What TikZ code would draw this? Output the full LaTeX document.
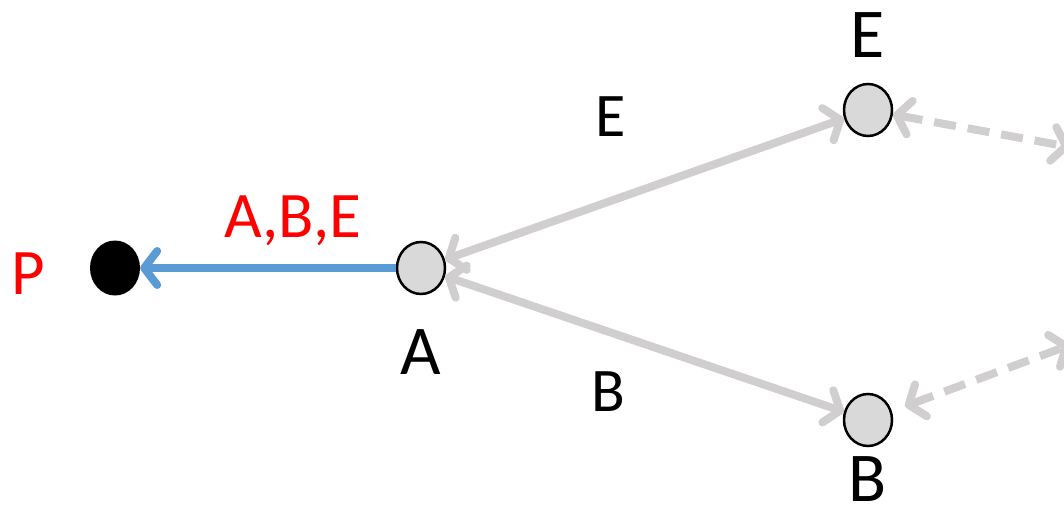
\documentclass[tikz,border=0pt]{standalone}
\usepackage{fontspec}
\setmainfont{Carlito}
\usetikzlibrary{arrows.meta,shapes.geometric}
\definecolor{lgray}{HTML}{D0CECE}
\definecolor{nodefill}{HTML}{D9D9D9}
\definecolor{lblue}{HTML}{5B9BD5}
\definecolor{lred}{HTML}{FF0000}
\tikzset{
  vnode/.style={ellipse, draw=black, line width=2.5pt, fill=nodefill, minimum width=48pt, minimum height=52pt, inner sep=0pt},
  pnode/.style={ellipse, fill=black, minimum width=50pt, minimum height=55pt, inner sep=0pt},
  nlabel/.style={font=\fontsize{70}{84}\selectfont, inner sep=0pt},
  rlabel/.style={font=\fontsize{65}{78}\selectfont, inner sep=0pt, text=lred},
  elabel/.style={font=\fontsize{62}{74}\selectfont, inner sep=0pt},
  barb/.tip={Straight Barb[length=13pt, width=34pt, line cap=round, line join=round]},
  garrow/.style={draw=lgray, line width=8pt, {barb}-{barb}},
  gdash/.style={draw=lgray, line width=8pt, dash pattern=on 22pt off 12pt, {barb}-{barb}},
  barrow/.style={draw=lblue, line width=8pt, -{barb}}
}
\begin{document}
\begin{tikzpicture}[x=1pt, y=-1pt]
\path[use as bounding box] (0,0) rectangle (1064,505);
\clip (0,0) rectangle (1064,505);
\node[pnode] (P) at (115,268) {};
\node[vnode] (A) at (421,268) {};
\node[vnode] (E) at (868,110) {};
\node[vnode] (B) at (868,420) {};
\coordinate (Eout) at (1070,147);
\coordinate (Bout) at (1070,345);
\draw[garrow] (A) -- (E);
\draw[garrow] (A) -- (B);
\draw[barrow] (A) -- (P);
\draw[gdash] (E) -- (Eout);
\draw[gdash, shorten <=14pt] (B) -- (Bout);
\node[rlabel] (lP) at (28,274) {P};
\node[rlabel] (lABE) at (293,221) {A,B,E};
\node[nlabel] (lA) at (421,352) {A};
\node[nlabel] (lE) at (868,35) {E};
\node[nlabel] (lB) at (868,479) {B};
\node[elabel] (eE) at (611,117) {E};
\node[elabel] (eB) at (608,392) {B};
\end{tikzpicture}
\end{document}
